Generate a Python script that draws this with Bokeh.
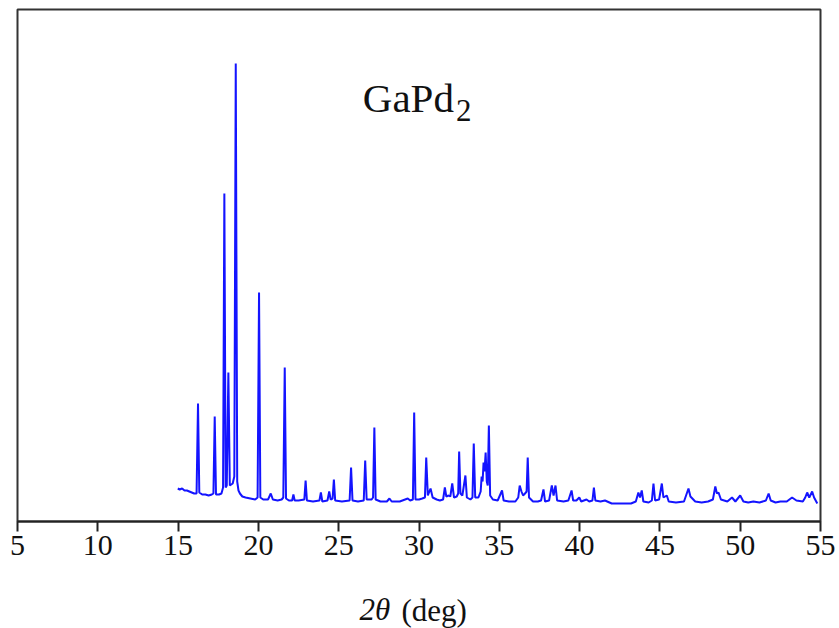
from bokeh.plotting import figure
from bokeh.models import Label, FixedTicker, Range1d
from bokeh.embed import file_html
from bokeh.resources import INLINE

# ---- data (2-theta in degrees, intensity in arbitrary units) ----
two_theta = [
    14.98, 15.10, 15.25, 15.40, 15.55, 15.70, 15.85, 16.00, 16.15, 16.24, 16.32, 16.50,
    16.70, 16.90, 17.10, 17.20, 17.28, 17.36, 17.55, 17.70, 17.80, 17.88, 17.96, 18.03,
    18.13, 18.22, 18.40, 18.50, 18.59, 18.68, 18.76, 18.85, 19.00, 19.20, 19.50, 19.80,
    19.95, 20.04, 20.12, 20.30, 20.60, 20.77, 20.90, 21.20, 21.45, 21.55, 21.64, 21.72,
    21.90, 22.10, 22.18, 22.26, 22.50, 22.86, 22.94, 23.02, 23.40, 23.80, 23.89, 23.98,
    24.30, 24.41, 24.50, 24.62, 24.70, 24.78, 25.20, 25.68, 25.77, 25.86, 26.20, 26.56,
    26.65, 26.74, 27.05, 27.14, 27.22, 27.30, 27.60, 28.00, 28.16, 28.30, 28.80, 29.30,
    29.45, 29.62, 29.70, 29.78, 30.00, 30.20, 30.37, 30.45, 30.55, 30.72, 30.85, 31.10,
    31.30, 31.50, 31.61, 31.70, 31.84, 31.95, 32.07, 32.18, 32.35, 32.44, 32.50, 32.58,
    32.70, 32.89, 32.98, 33.20, 33.33, 33.41, 33.50, 33.70, 33.84, 33.90, 33.96, 34.02,
    34.08, 34.15, 34.22, 34.28, 34.35, 34.43, 34.60, 34.90, 35.17, 35.27, 35.60, 36.00,
    36.18, 36.27, 36.38, 36.48, 36.60, 36.70, 36.77, 36.85, 37.10, 37.40, 37.60, 37.75,
    37.85, 38.10, 38.27, 38.38, 38.50, 38.60, 39.00, 39.30, 39.50, 39.60, 39.80, 39.98,
    40.10, 40.43, 40.60, 40.80, 40.89, 40.98, 41.30, 41.58, 42.00, 42.60, 43.20, 43.50,
    43.66, 43.76, 43.87, 43.97, 44.30, 44.50, 44.60, 44.70, 44.95, 45.12, 45.22, 45.43,
    45.55, 46.00, 46.50, 46.78, 46.90, 47.20, 47.60, 48.00, 48.30, 48.45, 48.55, 48.65,
    48.80, 49.20, 49.49, 49.70, 50.00, 50.20, 50.50, 50.82, 51.20, 51.60, 51.77, 51.90,
    52.20, 52.50, 52.90, 53.23, 53.50, 53.90, 54.05, 54.17, 54.30, 54.48, 54.60, 54.80,
]
intensity = [
    33, 32, 33, 31, 31, 30, 29, 28, 28, 118, 29, 27,
    27, 26, 27, 28, 105, 27, 27, 28, 34, 328, 34, 36,
    149, 36, 38, 45, 458, 40, 31, 28, 25, 24, 23, 22,
    24, 229, 24, 22, 22, 28, 22, 21, 22, 24, 154, 23,
    21, 21, 27, 21, 21, 22, 41, 21, 20, 21, 29, 20,
    21, 30, 22, 23, 42, 21, 20, 21, 54, 21, 20, 21,
    61, 22, 22, 24, 94, 22, 20, 20, 23, 20, 20, 23,
    21, 22, 109, 22, 22, 23, 24, 64, 26, 33, 24, 22,
    21, 22, 34, 25, 26, 25, 38, 24, 25, 28, 70, 28,
    26, 46, 24, 22, 24, 78, 24, 24, 30, 45, 40, 59,
    50, 69, 40, 36, 96, 26, 22, 21, 31, 21, 20, 20,
    24, 36, 30, 26, 28, 30, 64, 24, 20, 20, 21, 32,
    20, 21, 36, 26, 36, 21, 20, 21, 31, 21, 21, 24,
    20, 22, 20, 21, 34, 21, 20, 21, 18, 18, 18, 20,
    29, 24, 31, 20, 19, 21, 38, 21, 22, 38, 24, 26,
    20, 19, 20, 33, 25, 20, 19, 20, 22, 35, 28, 29,
    22, 20, 24, 20, 26, 20, 19, 20, 19, 21, 28, 21,
    19, 20, 20, 24, 21, 20, 24, 29, 24, 30, 24, 18,
]
x_ticks = [5, 10, 15, 20, 25, 30, 35, 40, 45, 50, 55]
compound = "GaPd"
compound_sub = "2"
x_label_italic = "2θ"
x_label_unit = "(deg)"

SERIF = "Liberation Serif"

p = figure(width=839, height=628, output_backend="svg", toolbar_location=None,
           x_range=Range1d(5, 55), y_range=Range1d(0, 512),
           y_axis_location=None,
           min_border_left=17, min_border_right=19, min_border_top=9, min_border_bottom=107)
p.background_fill_color = "white"
p.border_fill_color = "white"
p.outline_line_color = "#333333"
p.outline_line_width = 2
p.grid.visible = False

p.line(two_theta, intensity, line_color="#1414ff", line_width=2)

ax = p.xaxis[0]
ax.ticker = FixedTicker(ticks=x_ticks)
ax.major_tick_in = 0
ax.major_tick_out = 10
ax.minor_tick_line_color = None
ax.major_tick_line_color = "#222222"
ax.major_tick_line_width = 2
ax.axis_line_color = "#222222"
ax.axis_line_width = 2
ax.major_label_text_font = SERIF
ax.major_label_text_font_size = "30px"
ax.major_label_text_color = "#111111"
ax.major_label_standoff = 4
ax.axis_label_standoff = 0

# compound name with subscript, inside the plot
p.add_layout(Label(x=26.5, y=424, text=compound, text_font=SERIF, text_font_size="41px",
                   text_color="#111111", text_baseline="alphabetic"))
p.add_layout(Label(x=32.3, y=411, text=compound_sub, text_font=SERIF, text_font_size="31px",
                   text_color="#111111", text_baseline="alphabetic"))

# x axis title: italic "2θ" followed by upright "(deg)", placed in the panel below the axis
p.add_layout(Label(x=342, y=-17, x_units="screen", y_units="screen", text=x_label_italic,
                   text_font=SERIF, text_font_size="31px", text_font_style="italic",
                   text_color="#111111", text_baseline="alphabetic"), "below")
p.add_layout(Label(x=384, y=17, x_units="screen", y_units="screen", text=x_label_unit,
                   text_font=SERIF, text_font_size="31px",
                   text_color="#111111", text_baseline="alphabetic"), "below")

open("out.html", "w").write(file_html(p, INLINE))
